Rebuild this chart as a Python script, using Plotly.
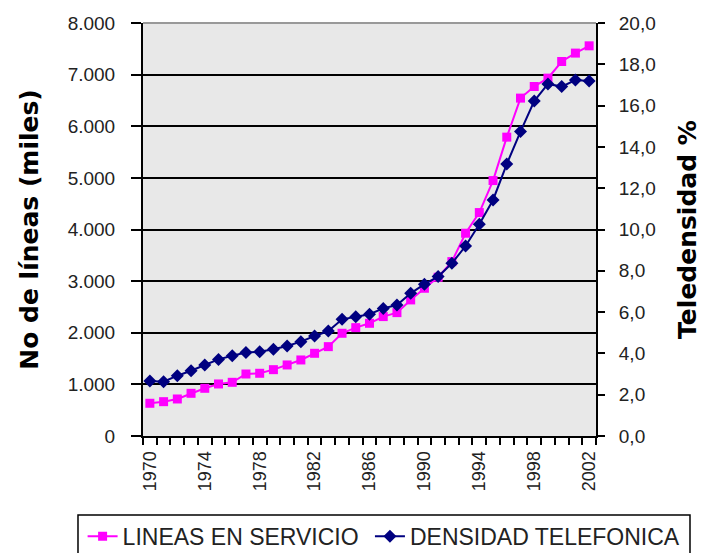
import plotly.graph_objects as go

# Years on the category axis
anios = [1970, 1971, 1972, 1973, 1974, 1975, 1976, 1977, 1978, 1979, 1980,
         1981, 1982, 1983, 1984, 1985, 1986, 1987, 1988, 1989, 1990, 1991,
         1992, 1993, 1994, 1995, 1996, 1997, 1998, 1999, 2000, 2001, 2002]

# Lines in service (thousands)
lineas_servicio = [634, 665, 717, 827, 924, 1008, 1040, 1201, 1215, 1285, 1376,
                   1473, 1602, 1731, 1990, 2099, 2183, 2313, 2390, 2636, 2862,
                   3075, 3378, 3928, 4328, 4948, 5789, 6545, 6770, 6932, 7254,
                   7417, 7558]

# Telephone density (%)
densidad_telefonica = [2.66, 2.63, 2.92, 3.16, 3.44, 3.71, 3.89, 4.04, 4.08, 4.20,
                       4.36, 4.57, 4.84, 5.08, 5.65, 5.78, 5.90, 6.18, 6.34, 6.91,
                       7.35, 7.72, 8.36, 9.20, 10.25, 11.43, 13.17, 14.74, 16.22,
                       17.05, 16.92, 17.24, 17.19]

etiquetas_anio = [1970, 1974, 1978, 1982, 1986, 1990, 1994, 1998, 2002]
limites_categoria = [a - 0.5 for a in anios] + [anios[-1] + 0.5]

FONT = "Liberation Sans, Arial, sans-serif"
FONT_TITLE = "DejaVu Sans, sans-serif"
LEGEND_FONT = dict(family=FONT, size=23, color="#222222")

fig = go.Figure()

fig.add_trace(go.Scatter(
    x=anios, y=lineas_servicio, name="LINEAS EN SERVICIO",
    mode="lines+markers",
    line=dict(color="#FF00FF", width=2),
    marker=dict(symbol="square", size=9, color="#FF00FF"),
    yaxis="y", legend="legend", showlegend=True,
))

fig.add_trace(go.Scatter(
    x=anios, y=densidad_telefonica, name="DENSIDAD TELEFONICA",
    mode="lines+markers",
    line=dict(color="#000080", width=2),
    marker=dict(symbol="diamond", size=10, color="#000080"),
    yaxis="y2", legend="legend2", showlegend=True,
))

fig.update_layout(
    width=706, height=553,
    margin=dict(l=143, r=110, t=23, b=117),
    paper_bgcolor="white",
    plot_bgcolor="#e8e8e8",
    separators=",.",
    font=dict(family=FONT, size=19, color="#222222"),
    xaxis=dict(
        range=[1969.5, 2002.5], automargin=False,
        tickmode="array", tickvals=etiquetas_anio,
        ticktext=[str(a) for a in etiquetas_anio],
        tickangle=-90, ticks="", ticklabelstandoff=6,
        showgrid=False, zeroline=False,
        showline=True, linecolor="black", linewidth=2,
        minor=dict(tickmode="array", tickvals=limites_categoria,
                   ticks="outside", ticklen=7, tickcolor="black",
                   tickwidth=1.5, showgrid=False),
        tickfont=dict(size=18),
    ),
    yaxis=dict(
        range=[0, 8000], dtick=1000, tickformat=",d", automargin=False,
        ticks="outside", ticklen=10, tickcolor="black", tickwidth=1.5,
        ticklabelstandoff=12,
        showgrid=True, gridcolor="black", gridwidth=1.6,
        zeroline=False,
        showline=True, linecolor="black", linewidth=2,
        title=dict(text="No de líneas (miles)", standoff=22,
                   font=dict(family=FONT_TITLE, size=25, color="black", weight="bold")),
    ),
    yaxis2=dict(
        range=[0, 20], dtick=2, tickformat=".1f", automargin=False,
        overlaying="y", side="right",
        ticks="outside", ticklen=7, tickcolor="black", tickwidth=1.5,
        ticklabelstandoff=10,
        showgrid=False, zeroline=False,
        showline=True, linecolor="black", linewidth=2,
        title=dict(text="Teledensidad %", standoff=24,
                   font=dict(family=FONT_TITLE, size=25, color="black", weight="bold")),
    ),
    # one legend entry per series, side by side inside a common frame
    legend=dict(
        orientation="h",
        xref="container", yref="container",
        x=0.117, xanchor="left", y=0.069, yanchor="top",
        bgcolor="rgba(0,0,0,0)", borderwidth=0,
        font=LEGEND_FONT, itemwidth=30,
    ),
    legend2=dict(
        orientation="h",
        xref="container", yref="container",
        x=0.524, xanchor="left", y=0.069, yanchor="top",
        bgcolor="rgba(0,0,0,0)", borderwidth=0,
        font=LEGEND_FONT, itemwidth=30,
    ),
    shapes=[
        # top edge of the plotting area
        dict(type="line", xref="paper", yref="paper",
             x0=0, x1=1, y0=1, y1=1,
             line=dict(color="#999999", width=2)),
        # legend frame
        dict(type="rect", xref="paper", yref="paper",
             x0=-0.1435, x1=1.2075, y0=-0.191, y1=-0.30,
             line=dict(color="black", width=1.5), layer="below"),
    ],
)

fig.write_html("out.html")
